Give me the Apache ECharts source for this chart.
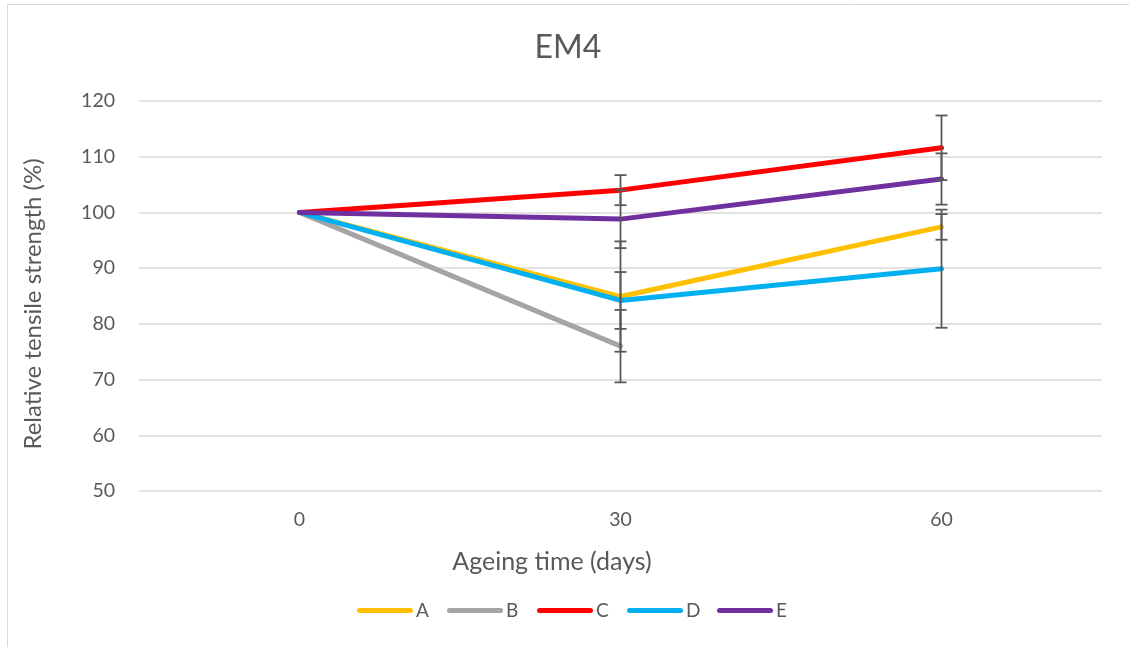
<!DOCTYPE html>
<html><head><meta charset="utf-8">
<script src="https://cdn.jsdelivr.net/npm/echarts@6/dist/echarts.min.js"></script>
<style>html,body{margin:0;padding:0;background:#fff}#c{width:1129px;height:647px}</style>
</head><body><div id="c"></div>
<script>
const categories = ['0', '30', '60'];
const seriesNames = ['A', 'B', 'C', 'D', 'E'];
const valuesA = [100, 84.9, 97.4];
const valuesB = [100, 76.0, null];
const valuesC = [100, 104.0, 111.6];
const valuesD = [100, 84.2, 89.9];
const valuesE = [100, 98.8, 106.0];
const errA = [0, 9.9, 2.3];
const errB = [0, 6.5, null];
const errC = [0, 2.7, 5.8];
const errD = [0, 5.1, 10.6];
const errE = [0, 5.2, 4.6];
const colors = ['#FFC000', '#A5A5A5', '#FF0000', '#00B0F0', '#7030A0'];

const values = [valuesA, valuesB, valuesC, valuesD, valuesE];
const errs = [errA, errB, errC, errD, errE];
const FONT = 'Lato';
const TXT = '#595959';

const lineSeries = seriesNames.map((n, i) => ({
  name: n, type: 'line', data: values[i], symbol: 'none', z: 3,
  lineStyle: { color: colors[i], width: 5, cap: 'round', join: 'round' },
  itemStyle: { color: colors[i] }, animation: false
}));

const errSeries = seriesNames.map((n, i) => ({
  type: 'custom', name: n + '_err', z: 4, silent: true, animation: false,
  data: values[i].map((v, k) => (v == null || !errs[i][k]) ? null : [k, v - errs[i][k], v + errs[i][k]]).filter(d => d),
  renderItem: function (params, api) {
    const lo = api.coord([api.value(0), api.value(1)]);
    const hi = api.coord([api.value(0), api.value(2)]);
    const w = 6;
    const st = { stroke: '#595959', lineWidth: 1.8 };
    return { type: 'group', children: [
      { type: 'line', shape: { x1: lo[0], y1: lo[1], x2: hi[0], y2: hi[1] }, style: st },
      { type: 'line', shape: { x1: lo[0] - w, y1: lo[1], x2: lo[0] + w, y2: lo[1] }, style: st },
      { type: 'line', shape: { x1: hi[0] - w, y1: hi[1], x2: hi[0] + w, y2: hi[1] }, style: st }
    ]};
  }
}));

const capsule = 'path://M2.5,0 L53.5,0 A2.5,2.5 0 0 1 53.5,5 L2.5,5 A2.5,2.5 0 0 1 2.5,0 Z';
const legends = seriesNames.map((n, i) => ({
  data: [n], left: 357 + 90 * i, top: 601, padding: 0, itemWidth: 56, itemHeight: 5,
  icon: capsule,
  textStyle: { fontFamily: FONT, fontSize: 19, color: TXT, padding: [0, 0, 0, -2] }
}));

const chart = echarts.init(document.getElementById('c'), null, { renderer: 'canvas' });
chart.setOption({
  animation: false,
  backgroundColor: '#fff',
  textStyle: { fontFamily: FONT },
  graphic: [
    { type: 'rect', shape: { x: 7.5, y: 4.5, width: 1130, height: 650 }, style: { fill: 'none', stroke: '#d9d9d9', lineWidth: 1 }, silent: true },
    { type: 'text', x: 568, y: 48, style: { text: 'EM4', fontFamily: FONT, fontSize: 32, fill: TXT, textAlign: 'center', textVerticalAlign: 'middle' } },
    { type: 'text', x: 552, y: 562, style: { text: 'Ageing time (days)', fontFamily: FONT, fontSize: 25, fill: TXT, textAlign: 'center', textVerticalAlign: 'middle' } },
    { type: 'text', x: 33, y: 304, rotation: Math.PI / 2, style: { text: 'Relative tensile strength (%)', fontFamily: FONT, fontSize: 24, fill: TXT, textAlign: 'center', textVerticalAlign: 'middle' } }
  ],
  legend: legends,
  grid: { left: 139, right: 27, top: 101, bottom: 156, containLabel: false },
  xAxis: {
    type: 'category', data: categories, boundaryGap: true,
    axisLine: { show: false }, axisTick: { show: false },
    axisLabel: { fontFamily: FONT, fontSize: 19.5, color: TXT, margin: 19 }
  },
  yAxis: {
    type: 'value', min: 50, max: 120, interval: 10,
    axisLine: { show: false }, axisTick: { show: false },
    axisLabel: { fontFamily: FONT, fontSize: 19.5, color: TXT, margin: 24 },
    splitLine: { lineStyle: { color: '#d9d9d9', width: 1.5 } }
  },
  series: [...lineSeries, ...errSeries]
});
</script></body></html>
